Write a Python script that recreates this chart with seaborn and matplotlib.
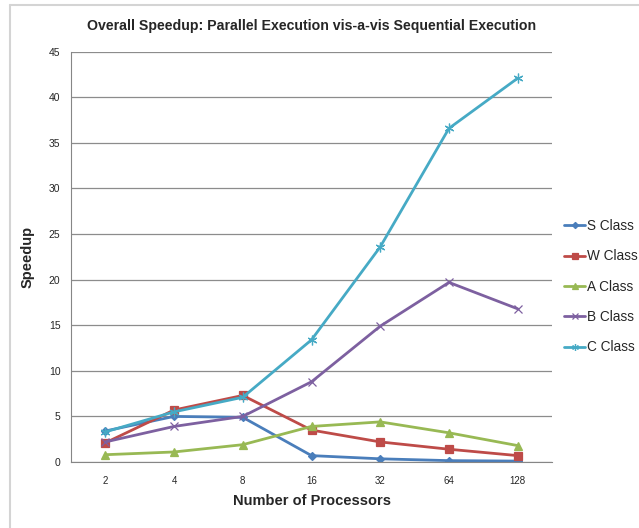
import numpy as np
import pandas as pd
import matplotlib
matplotlib.use("Agg")
import matplotlib.pyplot as plt
from matplotlib.lines import Line2D
import seaborn as sns

processors = ["2", "4", "8", "16", "32", "64", "128"]
s_class = [3.4, 5.0, 4.9, 0.7, 0.35, 0.15, 0.1]
w_class = [2.1, 5.7, 7.3, 3.5, 2.2, 1.4, 0.7]
a_class = [0.8, 1.1, 1.9, 3.9, 4.4, 3.2, 1.8]
b_class = [2.2, 3.9, 5.0, 8.8, 14.9, 19.7, 16.8]
c_class = [3.3, 5.5, 7.1, 13.4, 23.6, 36.6, 42.1]

series = {
    "S Class": s_class,
    "W Class": w_class,
    "A Class": a_class,
    "B Class": b_class,
    "C Class": c_class,
}

sns.set_style("white")
plt.rcParams["font.family"] = ["Liberation Sans", "DejaVu Sans"]

palette = {
    "S Class": "#4A7EBB",
    "W Class": "#BE4B48",
    "A Class": "#98B954",
    "B Class": "#7D60A0",
    "C Class": "#46AAC5",
}
markers = {
    "S Class": "D",
    "W Class": "s",
    "A Class": "^",
    "B Class": "x",
    "C Class": (6, 2, 0),
}
msizes = {"S Class": 4.5, "W Class": 5.5, "A Class": 6, "B Class": 6, "C Class": 7}

fig = plt.figure(figsize=(6.39, 5.28), dpi=100)
ax = fig.add_axes([0.111, 0.125, 0.753, 0.777])

for name, vals in series.items():
    d = pd.DataFrame({"pos": range(len(vals)), "Speedup": vals})
    sns.lineplot(data=d, x="pos", y="Speedup", color=palette[name],
                 marker=markers[name], markersize=msizes[name],
                 markeredgecolor=palette[name], markeredgewidth=0.9,
                 linewidth=2.0, label=name, ax=ax)

ax.set_xlim(-0.5, 6.5)
ax.set_ylim(0, 45)
ax.set_yticks(range(0, 46, 5))
ax.set_xticks(range(7))
ax.set_xticklabels(processors)
ax.set_xticks(np.arange(-0.5, 7, 1), minor=True)
ax.tick_params(axis="x", which="major", length=0, labelsize=7, pad=10)
ax.tick_params(axis="x", which="minor", length=4, color="#868686", direction="out")
ax.tick_params(axis="y", labelsize=7.5, length=4, color="#868686", direction="out")
ax.grid(axis="y", color="#8C8C8C", linewidth=0.9)
ax.set_axisbelow(True)

for side in ["top", "right"]:
    ax.spines[side].set_visible(False)
for side in ["left", "bottom"]:
    ax.spines[side].set_color("#868686")

ax.set_xlabel("Number of Processors", fontsize=10.5, fontweight="bold", labelpad=6)
ax.set_ylabel("Speedup", fontsize=10.5, fontweight="bold", labelpad=10)
ax.set_title("Overall Speedup: Parallel Execution vis-a-vis Sequential Execution",
             fontsize=10.2, fontweight="bold", pad=16)

ax.legend(loc="center left", bbox_to_anchor=(1.0, 0.427), frameon=False,
          fontsize=9.8, handlelength=1.5, handletextpad=0.15, labelspacing=1.2,
          borderaxespad=0.5, markerscale=0.7)

# faint outer chart border (top and left edges visible in the reference)
fig.add_artist(Line2D([10 / 639, 1], [1 - 5 / 528, 1 - 5 / 528],
                      transform=fig.transFigure, color="#D4D4D4", linewidth=1.5))
fig.add_artist(Line2D([10 / 639, 10 / 639], [0, 1 - 5 / 528],
                      transform=fig.transFigure, color="#D4D4D4", linewidth=1.5))

fig.savefig("out.png", dpi=100)
